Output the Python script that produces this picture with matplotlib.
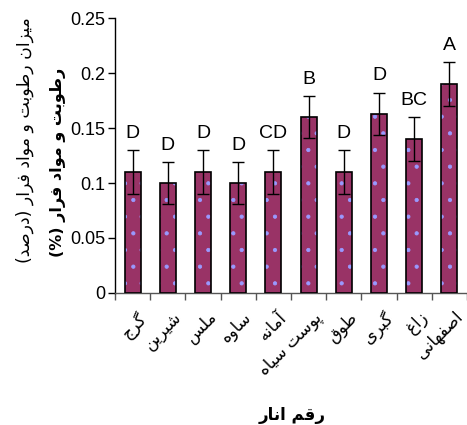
import matplotlib
matplotlib.use("Agg")
import matplotlib.pyplot as plt
import numpy as np

# pomegranate cultivars (Persian), mean moisture content and error
cultivars = ["گرج", "شیرین", "ملس", "ساوه", "آمانه", "پوست سیاه",
             "طوق", "گبری", "زاغ", "اصفهانی"]
values = [0.11, 0.10, 0.11, 0.10, 0.11, 0.16, 0.11, 0.163, 0.14, 0.19]
errors = [0.02, 0.019, 0.02, 0.019, 0.02, 0.019, 0.02, 0.019, 0.02, 0.02]
groups = ["D", "D", "D", "D", "CD", "B", "D", "D", "BC", "A"]
yticks = [0, 0.05, 0.1, 0.15, 0.2, 0.25]

ylabel_main = "میزان رطوبت و مواد فرار (درصد)"
ylabel_second = "رطوبت و مواد فرار (%)"
xlabel = "رقم انار"

# contextual forms: isolated, final, initial, medial (None = no such form)
FORMS = {
    "ا": (0xFE8D, 0xFE8E, None, None),
    "آ": (0xFE81, 0xFE82, None, None),
    "ب": (0xFE8F, 0xFE90, 0xFE91, 0xFE92),
    "پ": (0xFB56, 0xFB57, 0xFB58, 0xFB59),
    "ت": (0xFE95, 0xFE96, 0xFE97, 0xFE98),
    "ج": (0xFE9D, 0xFE9E, 0xFE9F, 0xFEA0),
    "د": (0xFEA9, 0xFEAA, None, None),
    "ر": (0xFEAD, 0xFEAE, None, None),
    "ز": (0xFEAF, 0xFEB0, None, None),
    "س": (0xFEB1, 0xFEB2, 0xFEB3, 0xFEB4),
    "ش": (0xFEB5, 0xFEB6, 0xFEB7, 0xFEB8),
    "ص": (0xFEB9, 0xFEBA, 0xFEBB, 0xFEBC),
    "ط": (0xFEC1, 0xFEC2, 0xFEC3, 0xFEC4),
    "غ": (0xFECD, 0xFECE, 0xFECF, 0xFED0),
    "ف": (0xFED1, 0xFED2, 0xFED3, 0xFED4),
    "ق": (0xFED5, 0xFED6, 0xFED7, 0xFED8),
    "گ": (0xFB92, 0xFB93, 0xFB94, 0xFB95),
    "ل": (0xFEDD, 0xFEDE, 0xFEDF, 0xFEE0),
    "م": (0xFEE1, 0xFEE2, 0xFEE3, 0xFEE4),
    "ن": (0xFEE5, 0xFEE6, 0xFEE7, 0xFEE8),
    "ه": (0xFEE9, 0xFEEA, 0xFEEB, 0xFEEC),
    "و": (0xFEED, 0xFEEE, None, None),
    "ی": (0xFBFC, 0xFBFD, 0xFBFE, 0xFBFF),
}
MIRROR = {"(": ")", ")": "("}


def shape(text):
    # join letters into contextual forms, then reverse for right-to-left display
    out = []
    for i, ch in enumerate(text):
        if ch not in FORMS:
            out.append(MIRROR.get(ch, ch))
            continue
        prev = text[i - 1] if i > 0 else ""
        nxt = text[i + 1] if i + 1 < len(text) else ""
        join_prev = prev in FORMS and FORMS[prev][2] is not None
        join_next = FORMS[ch][2] is not None and nxt in FORMS
        iso, fin, ini, med = FORMS[ch]
        if join_prev and join_next:
            code = med
        elif join_prev:
            code = fin
        elif join_next:
            code = ini
        else:
            code = iso
        out.append(chr(code))
    return "".join(reversed(out))


narrow = ["Liberation Sans Narrow", "Liberation Sans", "DejaVu Sans"]
arabic = ["DejaVu Sans"]
plt.rcParams["hatch.linewidth"] = 0.6

fig = plt.figure(figsize=(4.67, 4.25), dpi=100)
ax = fig.add_axes([115 / 467, 0.3106, 352 / 467, 0.647])

x = np.arange(len(cultivars))
ax.bar(x, values, width=0.45, color="#993366", edgecolor="#9999ff",
       hatch=".", linewidth=0, zorder=2)
ax.bar(x, values, width=0.45, fill=False, edgecolor="black",
       linewidth=1.2, zorder=3)
ax.errorbar(x, values, yerr=errors, fmt="none", ecolor="black",
            elinewidth=1, capsize=4, capthick=1, zorder=4)

for xi, v, e, g in zip(x, values, errors, groups):
    ax.annotate(g, (xi, v + e), xytext=(0, 6), textcoords="offset points",
                ha="center", va="bottom", fontsize=14, family=narrow)

ax.set_xlim(-0.5, len(cultivars) - 0.5)
ax.set_ylim(0, 0.25)
ax.set_yticks(yticks)
ax.set_yticklabels([f"{t:g}" for t in yticks], family=narrow, fontsize=13)
ax.set_xticks(np.arange(len(cultivars) + 1) - 0.5)
ax.set_xticklabels([])
ax.tick_params(axis="both", direction="out", length=5, width=1)
ax.tick_params(axis="x", colors="#555555")
ax.tick_params(axis="y", pad=2)
for side in ["top", "right"]:
    ax.spines[side].set_visible(False)
ax.spines["left"].set_linewidth(1)
ax.spines["bottom"].set_linewidth(1)
ax.spines["bottom"].set_color("#555555")

for xi, name in zip(x, cultivars):
    ax.text(xi + 0.12, -0.014, shape(name), rotation=45,
            rotation_mode="anchor", ha="right", va="top",
            fontsize=12, family=arabic)

fig.text(25 / 467, 1 - 140 / 425, shape(ylabel_main), rotation=90,
         ha="center", va="center", fontsize=12.5, family=arabic)
fig.text(58 / 467, 1 - 162 / 425, shape(ylabel_second), rotation=90,
         ha="center", va="center", fontsize=11.5, fontweight="bold",
         family=arabic)
fig.text(292 / 467, 1 - 415 / 425, shape(xlabel), ha="center",
         va="center", fontsize=12, fontweight="bold", family=arabic)

fig.savefig("out.png", dpi=100)
